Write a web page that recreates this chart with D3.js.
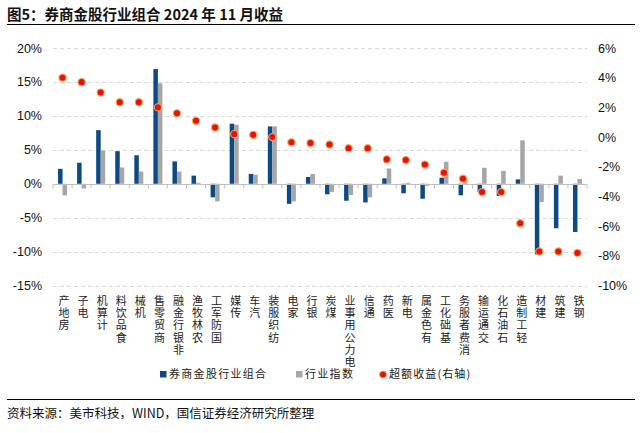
<!DOCTYPE html>
<html><head><meta charset="utf-8">
<script src="https://cdn.jsdelivr.net/npm/d3@7"></script>
<style>body{margin:0;background:#fff;} svg{display:block;}</style>
</head><body>
<svg id="c" width="642" height="433"></svg>
<script>
const categories = ["房地产","电子","计算机","食品饮料","机械","商贸零售","非银行金融","农林牧渔","国防军工","传媒","汽车","纺织服装","家电","银行","煤炭","电力公用事业","通信","医药","电新","有色金属","基础化工","消费者服务","交通运输","石油石化","轻工制造","建材","建筑","钢铁"];
const portfolio = [2.2,3.1,7.9,4.8,4.2,16.9,3.3,1.2,-2.0,8.85,1.45,8.45,-2.95,1.0,-1.55,-2.5,-2.75,0.8,-1.4,-2.2,0.9,-1.7,-1.2,-1.8,0.65,-10.4,-6.55,-7.1];
const industry = [-1.7,-0.7,4.9,2.4,1.8,14.8,1.8,0.15,-2.6,8.7,1.35,8.45,-2.6,1.45,-1.2,-1.65,-2.0,2.25,0.15,-0.3,3.25,0.7,2.35,1.9,6.4,-2.7,1.2,0.7];
const excess = [4.0,3.7,3.0,2.35,2.35,2.0,1.6,1.1,0.65,0.2,0.15,0.0,-0.35,-0.4,-0.5,-0.75,-0.75,-1.5,-1.55,-1.85,-2.4,-2.8,-3.7,-3.7,-5.8,-7.7,-7.7,-7.8];
const leftTicks = [20,15,10,5,0,-5,-10,-15];
const rightTicks = [6,4,2,0,-2,-4,-6,-8,-10];
const seriesNames = ["券商金股行业组合","行业指数","超额收益(右轴)"];

const svg = d3.select("#c");
const font = "'Liberation Sans', Arial, sans-serif";
const cjk = "'Noto Sans CJK SC', sans-serif";
const plotL = 53, plotR = 587, plotT = 48, plotB = 285.6;

const x = d3.scaleBand().domain(categories).range([plotL, plotR]);
const yL = d3.scaleLinear().domain([-15,20]).range([plotB, plotT]);
const yR = d3.scaleLinear().domain([-10,6]).range([plotB, plotT]);

// title
svg.append("text").attr("x",7).attr("y",20).attr("font-family",cjk).attr("font-size",14.5).attr("font-weight","bold").attr("fill","#111")
  .text("图5：券商金股行业组合 2024 年 11 月收益");
svg.append("line").attr("x1",7).attr("x2",635).attr("y1",24.5).attr("y2",24.5).attr("stroke","#000").attr("stroke-width",1.2);

// gridlines
svg.append("g").selectAll("line").data(leftTicks.filter(d=>d!==0)).join("line")
  .attr("x1",plotL).attr("x2",plotR).attr("y1",d=>Math.round(yL(d))+0.5).attr("y2",d=>Math.round(yL(d))+0.5)
  .attr("stroke","#d9d9d9").attr("stroke-dasharray","4,3").attr("stroke-width",1);

// left axis labels
svg.append("g").selectAll("text").data(leftTicks).join("text")
  .attr("x",42).attr("y",d=>yL(d)+4.5).attr("text-anchor","end").attr("font-family",font).attr("font-size",12.5).attr("fill","#111")
  .text(d=>d+"%");
// right axis labels
svg.append("g").selectAll("text").data(rightTicks).join("text")
  .attr("x",598).attr("y",d=>yR(d)+4.5).attr("text-anchor","start").attr("font-family",font).attr("font-size",12.5).attr("fill","#111")
  .text(d=>d+"%");

// bars
const bw = 4.5;
svg.append("g").selectAll("rect").data(portfolio).join("rect")
  .attr("x",(d,i)=>x(categories[i])+x.bandwidth()/2-bw).attr("width",bw)
  .attr("y",d=>yL(Math.max(0,d))).attr("height",d=>Math.abs(yL(d)-yL(0)))
  .attr("fill","#0d4a85");
svg.append("g").selectAll("rect").data(industry).join("rect")
  .attr("x",(d,i)=>x(categories[i])+x.bandwidth()/2).attr("width",bw)
  .attr("y",d=>yL(Math.max(0,d))).attr("height",d=>Math.abs(yL(d)-yL(0)))
  .attr("fill","#a6a6a6");

// zero axis line with ticks
const zy = Math.round(yL(0))+0.5;
svg.append("line").attr("x1",plotL).attr("x2",plotR).attr("y1",zy).attr("y2",zy).attr("stroke","#bfbfbf").attr("stroke-width",1);
svg.append("g").selectAll("line").data(categories.concat(["_end"])).join("line")
  .attr("x1",(d,i)=>plotL+i*x.bandwidth()).attr("x2",(d,i)=>plotL+i*x.bandwidth())
  .attr("y1",zy).attr("y2",zy+4).attr("stroke","#bfbfbf");

// dots
svg.append("g").selectAll("circle").data(excess).join("circle")
  .attr("cx",(d,i)=>x(categories[i])+x.bandwidth()/2).attr("cy",d=>yR(d)).attr("r",3.6)
  .attr("fill","#e2140c").attr("stroke","#f7a35c").attr("stroke-width",1.1);

// category labels: vertical, upright characters reading bottom-to-top, top aligned
svg.append("g").selectAll("text").data(categories).join("text")
  .attr("x",c=>x(c)+x.bandwidth()/2+1.5).attr("y",295)
  .style("writing-mode","vertical-rl").style("text-orientation","upright")
  .attr("letter-spacing",1.3)
  .attr("font-family",cjk).attr("font-size",11).attr("fill","#222")
  .text(c=>[...c].reverse().join(""));

// legend
const ly = 375;
const lg = svg.append("g").attr("font-family",cjk).attr("font-size",11).attr("fill","#222");
lg.append("rect").attr("x",160).attr("y",ly-4).attr("width",6.5).attr("height",6.5).attr("fill","#0d4a85");
lg.append("text").attr("x",169).attr("y",ly+3).attr("letter-spacing",1.3).text(seriesNames[0]);
lg.append("rect").attr("x",296).attr("y",ly-4).attr("width",6.5).attr("height",6.5).attr("fill","#a6a6a6");
lg.append("text").attr("x",305).attr("y",ly+3).attr("letter-spacing",1.3).text(seriesNames[1]);
lg.append("circle").attr("cx",383).attr("cy",ly-0.5).attr("r",3.5).attr("fill","#e2140c").attr("stroke","#f7a35c");
lg.append("text").attr("x",389).attr("y",ly+3).attr("letter-spacing",1.1).text(seriesNames[2]);

// bottom line & source
svg.append("line").attr("x1",7).attr("x2",635).attr("y1",399.5).attr("y2",399.5).attr("stroke","#000").attr("stroke-width",1.2);
svg.append("text").attr("x",7).attr("y",418).attr("font-family",cjk).attr("font-size",12.5).attr("fill","#111")
  .text("资料来源：美市科技，WIND，国信证券经济研究所整理");
</script>
</body></html>
